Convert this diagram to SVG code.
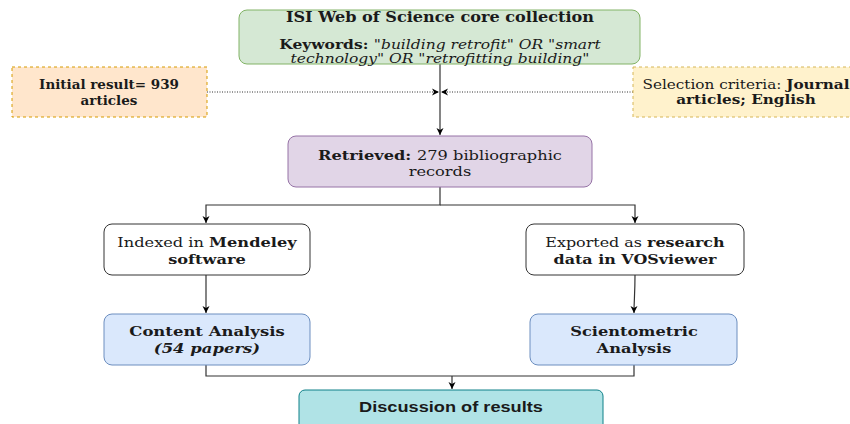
<svg xmlns="http://www.w3.org/2000/svg" width="850" height="424" viewBox="0 0 850 424">
<style>
text{font-family:"DejaVu Serif","Liberation Serif",serif;font-size:13.5px;fill:#1a1a1a;text-anchor:middle}
.b{font-weight:bold}
.i{font-style:italic}
.sans{font-family:"Liberation Sans",Arial,sans-serif;font-size:14px;font-weight:bold}
.ln{fill:none;stroke:#333;stroke-width:1.2}
.dot{fill:none;stroke:#333;stroke-width:1;stroke-dasharray:1 1.5}
</style>
<defs>
<marker id="ar" markerWidth="8" markerHeight="8" refX="7" refY="4" orient="auto" markerUnits="userSpaceOnUse">
<path d="M0,0.5 L7,4 L0,7.5 L2,4 Z" fill="#000"/>
</marker>
</defs>
<g id="connectors">
<line class="ln" x1="440" y1="64" x2="440" y2="135" marker-end="url(#ar)"/>
<line class="dot" x1="207" y1="92" x2="439" y2="92" marker-end="url(#ar)"/>
<line class="dot" x1="633" y1="92" x2="441" y2="92" marker-end="url(#ar)"/>
<polyline class="ln" points="440,187 440,205 206,205 206,223" marker-end="url(#ar)"/>
<polyline class="ln" points="440,205 635,205 635,223" marker-end="url(#ar)"/>
<line class="ln" x1="206" y1="275" x2="206" y2="313" marker-end="url(#ar)"/>
<path class="ln" d="M635,275 C635,295 634,300 634,313" marker-end="url(#ar)"/>
<polyline class="ln" points="206,365 206,376 634,376 634,365"/>
<line class="ln" x1="452" y1="376" x2="452" y2="389" marker-end="url(#ar)"/>
</g>
<g id="wos">
<rect x="239" y="10" width="401" height="54" rx="8" fill="#d5e8d4" stroke="#82b366"/>
<g transform="matrix(1.15 0 0 1 -66 0)">
<text x="440" y="22.5" class="b" style="font-size:14px">ISI Web of Science core collection</text>
<text x="440" y="49"><tspan class="b">Keywords: </tspan><tspan class="i">"building retrofit" OR "smart</tspan></text>
<text x="440" y="63" class="i">technology" OR "retrofitting building"</text>
</g>
</g>
<g id="initial">
<rect x="12" y="67" width="195" height="50" fill="#ffe6cc" stroke="#d79b00" stroke-dasharray="3 3"/>
<text x="109" y="89" class="b">Initial result= 939</text>
<text x="109" y="105" class="b">articles</text>
</g>
<g id="criteria">
<rect x="633" y="67" width="230" height="50" fill="#fff2cc" stroke="#d6b656" stroke-dasharray="3 3"/>
<g transform="matrix(1.13 0 0 1 -97 0)">
<text x="746" y="89"><tspan>Selection criteria: </tspan><tspan class="b">Journal</tspan></text>
<text x="746" y="104" class="b">articles; English</text>
</g>
</g>
<g id="retrieved">
<rect x="288" y="136" width="304" height="51" rx="8" fill="#e1d5e7" stroke="#9673a6"/>
<g transform="matrix(1.2 0 0 1 -88 0)">
<text x="440" y="160"><tspan class="b">Retrieved: </tspan><tspan>279 bibliographic</tspan></text>
<text x="440" y="176">records</text>
</g>
</g>
<g id="mendeley">
<rect x="104" y="224" width="206" height="51" rx="8" fill="#fff" stroke="#333"/>
<g transform="matrix(1.2 0 0 1 -41.4 0)">
<text x="207" y="247"><tspan>Indexed in </tspan><tspan class="b">Mendeley</tspan></text>
<text x="207" y="264" class="b">software</text>
</g>
</g>
<g id="vosviewer">
<rect x="526" y="224" width="218" height="51" rx="8" fill="#fff" stroke="#333"/>
<g transform="matrix(1.18 0 0 1 -114.3 0)">
<text x="635" y="247"><tspan>Exported as </tspan><tspan class="b">research</tspan></text>
<text x="635" y="264" class="b">data in VOSviewer</text>
</g>
</g>
<g id="content">
<rect x="104" y="314" width="206" height="51" rx="8" fill="#dae8fc" stroke="#6c8ebf"/>
<g transform="matrix(1.22 0 0 1 -45.54 0)">
<text x="207" y="336" class="b">Content Analysis</text>
<text x="207" y="353" class="b i">(54 papers)</text>
</g>
</g>
<g id="sciento">
<rect x="530" y="314" width="207" height="51" rx="8" fill="#dae8fc" stroke="#6c8ebf"/>
<g transform="matrix(1.2 0 0 1 -126.8 0)">
<text x="634" y="336" class="b">Scientometric</text>
<text x="634" y="353" class="b">Analysis</text>
</g>
</g>
<g id="discussion">
<rect x="299" y="390" width="304" height="40" rx="6" fill="#b0e3e6" stroke="#0e8088"/>
<g transform="matrix(1.3 0 0 1 -135.3 0)">
<text x="451" y="412" class="sans">Discussion of results</text>
</g>
</g>
</svg>
